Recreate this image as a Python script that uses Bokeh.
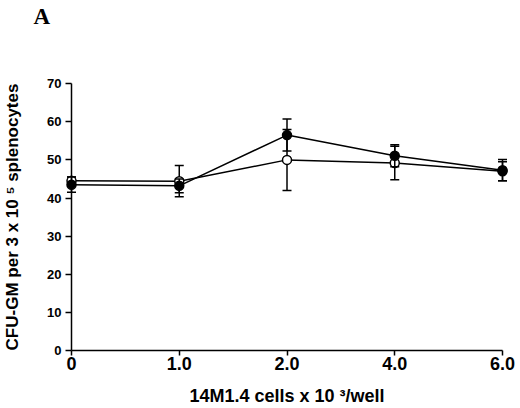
######################################################
# CFU-GM colonies vs number of 14M1.4 cells per well #
######################################################

from bokeh.plotting import figure
from bokeh.models import FixedTicker, Label
from bokeh.embed import file_html
from bokeh.resources import INLINE

# data
doses = ["0", "1.0", "2.0", "4.0", "6.0"]
open_mean = [44.5, 44.4, 50.0, 49.2, 47.0]
open_err = [1.0, 4.1, 8.0, 4.4, 2.5]
filled_mean = [43.5, 43.2, 56.5, 51.1, 47.3]
filled_err = [2.0, 1.8, 4.2, 2.9, 2.8]
y_ticks = [0, 10, 20, 30, 40, 50, 60, 70]

FONT = "Liberation Sans"


def add_series(fig, xs, mean, err, fill):
    lower = [m - e for m, e in zip(mean, err)]
    upper = [m + e for m, e in zip(mean, err)]
    # error bars first so the markers sit on top
    fig.segment(xs, lower, xs, upper, line_color="black", line_width=1.5)
    fig.dash(xs, lower, size=9, line_color="black", line_width=1.5)
    fig.dash(xs, upper, size=9, line_color="black", line_width=1.5)
    fig.line(xs, mean, line_color="black", line_width=1.5)
    fig.scatter(xs, mean, marker="circle", size=9, fill_color=fill,
                line_color="black", line_width=1.5)


def style_axis(ax, tick_size, label_size):
    ax.minor_tick_line_color = None
    ax.major_tick_in = 0
    ax.axis_line_width = 1.5
    ax.major_tick_line_width = 1.5
    ax.major_label_text_font = FONT
    ax.major_label_text_font_style = "bold"
    ax.major_label_text_font_size = tick_size
    ax.major_label_text_color = "black"
    ax.axis_label_text_font = FONT
    ax.axis_label_text_font_style = "bold"
    ax.axis_label_text_font_size = label_size
    ax.axis_label_text_color = "black"


xs = list(range(len(doses)))

# the frame covers the whole canvas; axes are pinned at x=0 / y=0 inside it
p = figure(width=520, height=408, x_range=(-0.659, 4.167), y_range=(-15.2, 91.8),
           output_backend="svg", toolbar_location=None, min_border=0)
p.title.visible = False
p.outline_line_color = None
p.grid.visible = False

add_series(p, xs, open_mean, open_err, "white")
add_series(p, xs, filled_mean, filled_err, "black")

# x axis
xa = p.xaxis[0]
xa.fixed_location = 0
xa.bounds = (0, 4)
xa.ticker = FixedTicker(ticks=xs)
xa.major_label_overrides = {i: d for i, d in enumerate(doses)}
xa.major_tick_out = 5
xa.major_label_standoff = 1
style_axis(xa, "18px", "18px")
xa.axis_label = "14M1.4 cells x 10 \u00b3/well"
xa.axis_label_standoff = 13

# y axis
ya = p.yaxis[0]
ya.fixed_location = 0
ya.bounds = (0, 70)
ya.ticker = FixedTicker(ticks=y_ticks)
ya.major_tick_out = 6
ya.major_label_standoff = 4
style_axis(ya, "13px", "17px")
ya.axis_label = "CFU-GM per 3 x 10 \u2075 splenocytes"
ya.axis_label_standoff = 22

# panel letter
p.add_layout(Label(x=-0.353, y=87.5, text="A", text_font="Liberation Serif",
                   text_font_style="bold", text_font_size="23px",
                   text_color="black", text_baseline="alphabetic"))

open("out.html", "w").write(file_html(p, INLINE))
